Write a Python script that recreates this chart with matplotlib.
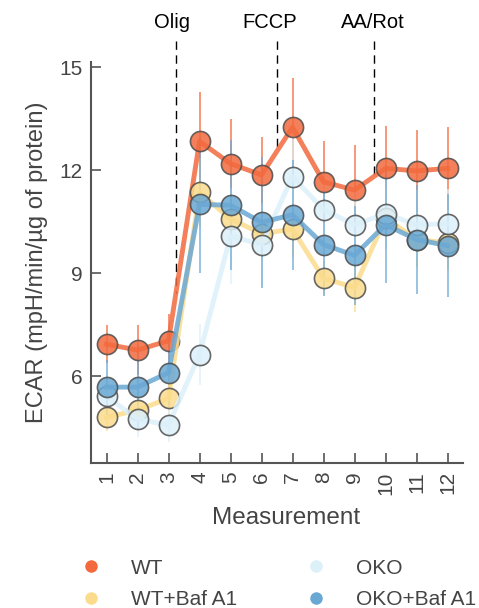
import matplotlib
matplotlib.use("Agg")
import matplotlib.pyplot as plt
from matplotlib.lines import Line2D
import numpy as np

plt.rcParams["font.family"] = ["Liberation Sans", "DejaVu Sans"]

# measurement index
measurements = np.arange(1, 13)

wt = [6.93, 6.76, 7.03, 12.84, 12.19, 11.86, 13.25, 11.66, 11.42, 12.05, 11.98, 12.05]
wt_err = [0.55, 0.72, 0.77, 1.45, 1.3, 1.1, 1.42, 1.2, 1.3, 1.25, 1.2, 1.2]

wt_baf = [4.80, 5.01, 5.35, 11.35, 10.58, 10.15, 10.28, 8.85, 8.58, 10.60, 9.98, 9.88]
wt_baf_err = [0.4, 0.4, 0.5, 1.0, 0.8, 0.8, 0.8, 0.5, 0.7, 0.9, 0.8, 0.8]

oko = [5.42, 4.74, 4.58, 6.63, 10.08, 9.83, 11.81, 10.85, 10.41, 10.73, 10.41, 10.44]
oko_err = [0.5, 0.5, 0.5, 0.9, 1.4, 1.2, 1.5, 1.0, 1.0, 1.0, 1.0, 1.0]

oko_baf = [5.68, 5.68, 6.10, 11.0, 10.98, 10.48, 10.70, 9.83, 9.52, 10.41, 9.98, 9.80]
oko_baf_err = [0.8, 1.24, 1.0, 2.0, 1.9, 1.9, 1.6, 1.5, 1.45, 1.7, 1.6, 1.5]

series_names = ["WT", "WT+Baf A1", "OKO", "OKO+Baf A1"]
series_values = [wt, wt_baf, oko, oko_baf]
series_errors = [wt_err, wt_baf_err, oko_err, oko_baf_err]
series_colors = ["#f26a3d", "#fbdc8c", "#dcf0fa", "#6aa8d4"]

# injections
injection_labels = ["Olig", "FCCP", "AA/Rot"]
injection_x = [3.24, 6.5, 9.62]
injection_text_x = [3.12, 6.26, 9.58]

TEXT_COLOR = "#444444"
SPINE_COLOR = "#555555"

fig = plt.figure(figsize=(4.79, 6.08), dpi=100)
ax = fig.add_axes([0.190, 0.2385, 0.7766, 0.6595])

for name, vals, errs, color in zip(series_names, series_values, series_errors, series_colors):
    ax.errorbar(measurements, vals, yerr=errs, fmt="none", ecolor=color,
                elinewidth=1.3, alpha=0.75, capsize=0, zorder=2)
    ax.plot(measurements, vals, color=color, linewidth=3.5, zorder=3,
            marker="o", markersize=14.5, markerfacecolor=color,
            markeredgecolor="#4d4d4d", markeredgewidth=1.2, alpha=0.85, label=name)

# injection markers: dashed line from above the axes down to the WT trace
for label, xv, tx in zip(injection_labels, injection_x, injection_text_x):
    y_stop = np.interp(xv, measurements, wt)
    ax.plot([xv, xv], [15.75, y_stop], color="black", linestyle=(0, (6, 4)),
            linewidth=1.0, clip_on=False, zorder=1)
    ax.text(tx, 16.3, label, ha="center", va="center", fontsize=14.5,
            color="black", clip_on=False)

ax.set_xlim(0.5, 12.5)
ax.set_ylim(3.47, 15.15)
ax.set_yticks([6, 9, 12, 15])
ax.set_xticks(measurements)
ax.set_xticklabels([str(m) for m in measurements], rotation=90)

ax.spines[["top", "right"]].set_visible(False)
ax.spines[["left", "bottom"]].set_color(SPINE_COLOR)
ax.spines[["left", "bottom"]].set_linewidth(1.5)
ax.tick_params(direction="in", length=7, width=1.2, color=SPINE_COLOR,
               labelcolor=TEXT_COLOR, labelsize=15, pad=6)

ax.set_ylabel("ECAR (mpH/min/µg of protein)", fontsize=17, color=TEXT_COLOR, labelpad=8)
ax.set_xlabel("Measurement", fontsize=17.5, color=TEXT_COLOR, labelpad=6)
ax.xaxis.set_label_coords(0.525, -0.11)

handles = [Line2D([0], [0], marker="o", linestyle="none", markersize=9,
                  markerfacecolor=c, markeredgecolor="none") for c in series_colors]
fig.legend(handles, series_names, ncol=2, loc="upper left",
           bbox_to_anchor=(0.13, 0.112), frameon=False, fontsize=15,
           labelcolor=TEXT_COLOR, handletextpad=1.4, columnspacing=3.3,
           labelspacing=0.6, handlelength=1.0)

fig.savefig("out.png", dpi=100)
